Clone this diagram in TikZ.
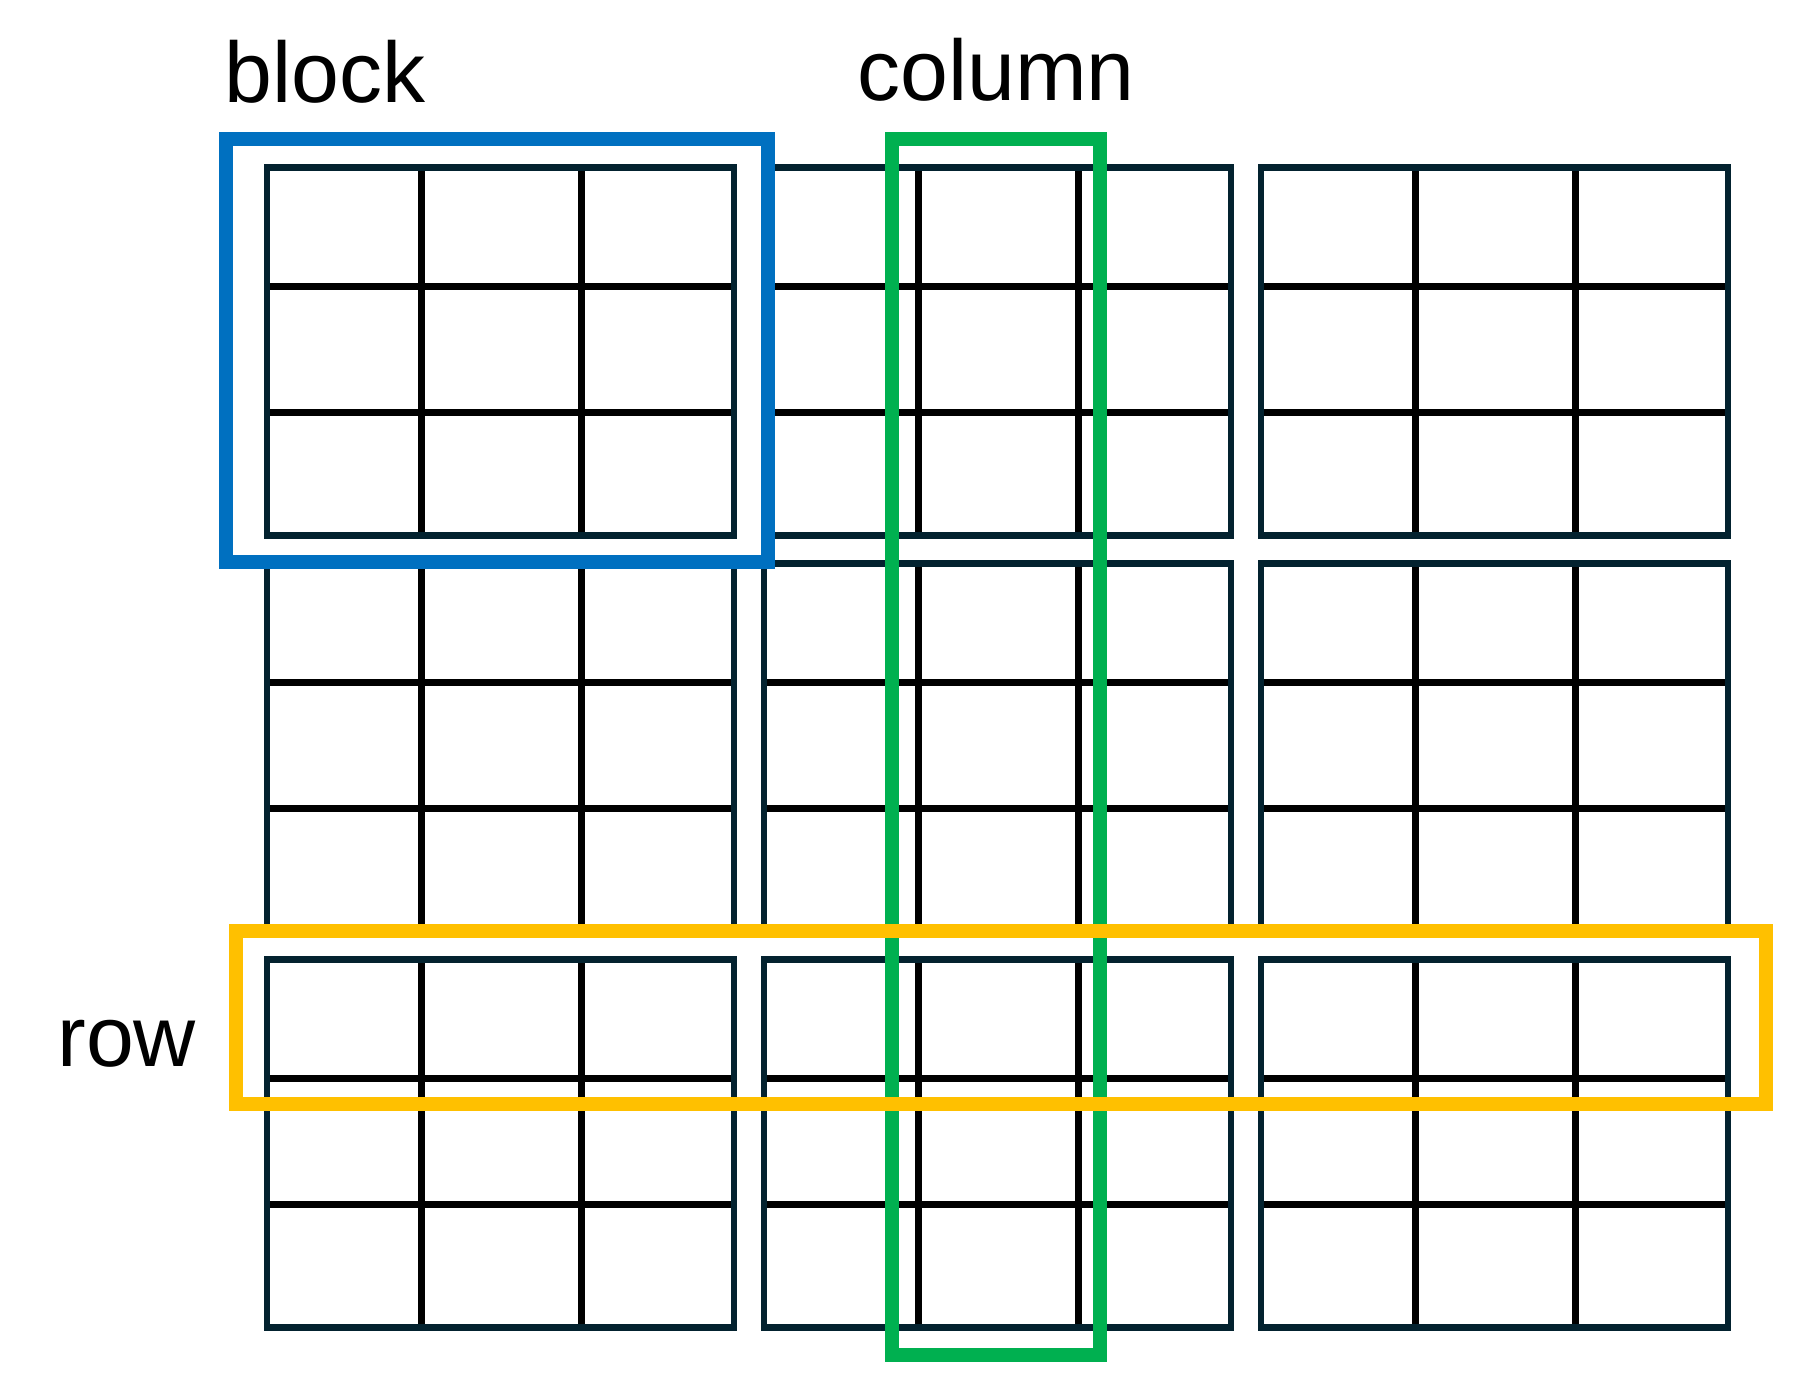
\documentclass[tikz,border=0pt]{standalone}
\usepackage{fontspec}
\setmainfont{Liberation Sans}
\definecolor{framenavy}{HTML}{03222F}
\definecolor{blockblue}{HTML}{0070C0}
\definecolor{colgreen}{HTML}{00B050}
\definecolor{rowyellow}{HTML}{FFC000}
\tikzset{
    %Define style for the lines inside a block
    cellline/.style={
           draw=black,
           line width=3.2pt,
           },
    %Define style for the block borders
    blockframe/.style={
           draw=framenavy,
           line width=3.4pt,
           },
    %Define style for the marked regions
    markbox/.style={
           line width=7pt,
           },
    %Define style for the texts
    tag/.style={
           anchor=base west,
           inner sep=0pt,
           font=\fontsize{43}{50}\selectfont,
           },
}
\begin{document}
\begin{tikzpicture}[x=0.5pt,y=-0.5pt]
\useasboundingbox (0,0) rectangle (1810,1383);
% 3x3 blocks of 3x3 cells
\foreach \i in {0,1,2}{
  \foreach \j in {0,1,2}{
    \foreach \dx/\dy in {154.5/119,314.5/245}{
      \draw[cellline] ({267+497*\i+\dx},{167.5+396*\j}) -- ++(0,368);
      \draw[cellline] ({267+497*\i},{167.5+396*\j+\dy}) -- ++(467,0);
    }
    \draw[blockframe] ({267+497*\i},{167.5+396*\j}) rectangle ++(467,368);
  }
}
% marked regions
\draw[markbox,draw=blockblue] (226,139) rectangle (768,562);
\draw[markbox,draw=colgreen] (892,139) rectangle (1100,1355);
\draw[markbox,draw=rowyellow] (236,931) rectangle (1766,1104);
% texts
\node[tag] (blocktxt) at (224,102.5) {block};
\node[tag] (columntxt) at (857,100) {column};
\node[tag] (rowtxt) at (57,1066.5) {row};
\end{tikzpicture}
\end{document}
